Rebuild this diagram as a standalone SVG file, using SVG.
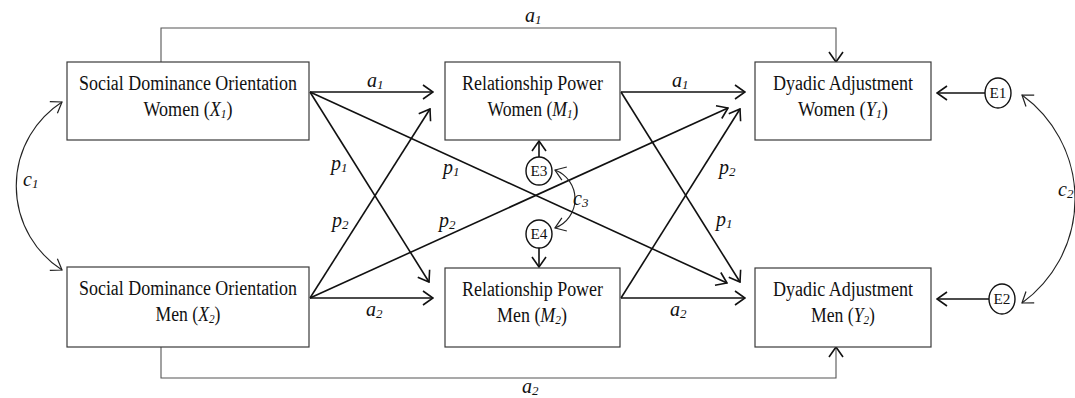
<svg xmlns="http://www.w3.org/2000/svg" width="1075" height="398" viewBox="0 0 1075 398">
<style>
.box{fill:#fff;stroke:#3a3a3a;stroke-width:1.2}
.bt{font-family:"Liberation Serif",serif;font-size:20.5px;fill:#111;text-anchor:middle}
.lb{font-family:"Liberation Serif",serif;font-size:20px;font-style:italic;fill:#111}
.sub{font-size:13px;font-style:italic}
.ar{fill:none;stroke:#111;stroke-width:1.6}
.thin{fill:none;stroke:#555;stroke-width:1.1}
.cv{fill:none;stroke:#222;stroke-width:1.1}
.el{fill:#fff;stroke:#111;stroke-width:1.4}
.et{font-family:"Liberation Serif",serif;font-size:15px;fill:#111;text-anchor:middle}
</style>
<defs>
<marker id="ah" markerUnits="userSpaceOnUse" viewBox="0 0 12 16" refX="11" refY="8" markerWidth="12" markerHeight="16" orient="auto">
<path d="M1,1 L11,8 L1,15" fill="none" stroke="#111" stroke-width="1.6"/>
</marker>
<marker id="ac" markerUnits="userSpaceOnUse" viewBox="0 0 12 16" refX="11" refY="8" markerWidth="12" markerHeight="16" orient="auto-start-reverse">
<path d="M1,1 L11,8 L1,15" fill="none" stroke="#222" stroke-width="1.2"/>
</marker>
</defs>

<g id="connectors">
<path class="thin" d="M161,62 V28 H836 V62" marker-end="url(#ah)"/>
<path class="thin" d="M161,347 V378 H836 V347" marker-end="url(#ah)"/>
<path class="ar" d="M310,92 H433" marker-end="url(#ah)"/>
<path class="ar" d="M621,92 H745" marker-end="url(#ah)"/>
<path class="ar" d="M310,298 H433" marker-end="url(#ah)"/>
<path class="ar" d="M621,298 H745" marker-end="url(#ah)"/>
<path class="ar" d="M310,92 L429,282" marker-end="url(#ah)"/>
<path class="ar" d="M310,92 L727,283" marker-end="url(#ah)"/>
<path class="ar" d="M310,298 L430,109" marker-end="url(#ah)"/>
<path class="ar" d="M310,298 L728,108" marker-end="url(#ah)"/>
<path class="ar" d="M621,92 L740,282" marker-end="url(#ah)"/>
<path class="ar" d="M621,298 L740,109" marker-end="url(#ah)"/>
<path class="ar" d="M985,93 H937" marker-end="url(#ah)"/>
<path class="ar" d="M989,299 H937" marker-end="url(#ah)"/>
<path class="ar" d="M539,157 V141" marker-end="url(#ah)"/>
<path class="ar" d="M539,248 V267" marker-end="url(#ah)"/>
<path class="cv" d="M62,102 A100,100 0 0,0 62,270" marker-start="url(#ac)" marker-end="url(#ac)"/>
<path class="cv" d="M1022,95 A128.5,128.5 0 0,1 1022,303" marker-start="url(#ac)" marker-end="url(#ac)"/>
<path class="cv" d="M555,170 A31,31 0 0,1 555,228" marker-start="url(#ac)" marker-end="url(#ac)"/>
</g>

<g id="labels">
<text class="lb" x="525" y="22">a<tspan class="sub" dy="2">1</tspan></text>
<text class="lb" x="522" y="393">a<tspan class="sub" dy="2">2</tspan></text>
<text class="lb" x="367" y="87">a<tspan class="sub" dy="2">1</tspan></text>
<text class="lb" x="672" y="87">a<tspan class="sub" dy="2">1</tspan></text>
<text class="lb" x="366" y="316">a<tspan class="sub" dy="2">2</tspan></text>
<text class="lb" x="670" y="316">a<tspan class="sub" dy="2">2</tspan></text>
<text class="lb" x="331" y="170">p<tspan class="sub" dy="2">1</tspan></text>
<text class="lb" x="332" y="227">p<tspan class="sub" dy="2">2</tspan></text>
<text class="lb" x="443" y="174">p<tspan class="sub" dy="2">1</tspan></text>
<text class="lb" x="439" y="227">p<tspan class="sub" dy="2">2</tspan></text>
<text class="lb" x="719" y="174">p<tspan class="sub" dy="2">2</tspan></text>
<text class="lb" x="716" y="226">p<tspan class="sub" dy="2">1</tspan></text>
<text class="lb" x="23" y="186">c<tspan class="sub" dy="2">1</tspan></text>
<text class="lb" x="1058" y="196">c<tspan class="sub" dy="2">2</tspan></text>
<text class="lb" x="573" y="205">c<tspan class="sub" dy="2">3</tspan></text>
</g>

<g id="X1">
<rect class="box" x="67" y="62" width="242" height="78"/>
<text class="bt" x="188" y="90" textLength="218" lengthAdjust="spacingAndGlyphs">Social Dominance Orientation</text>
<text class="bt" x="188" y="116" textLength="89" lengthAdjust="spacingAndGlyphs">Women (<tspan font-style="italic">X</tspan><tspan class="sub" dy="2">1</tspan><tspan dy="-2">)</tspan></text>
</g>
<g id="X2">
<rect class="box" x="67" y="267" width="242" height="80"/>
<text class="bt" x="188" y="295" textLength="218" lengthAdjust="spacingAndGlyphs">Social Dominance Orientation</text>
<text class="bt" x="188" y="321" textLength="65" lengthAdjust="spacingAndGlyphs">Men (<tspan font-style="italic">X</tspan><tspan class="sub" dy="2">2</tspan><tspan dy="-2">)</tspan></text>
</g>
<g id="M1">
<rect class="box" x="445" y="62" width="175" height="78"/>
<text class="bt" x="532.5" y="90" textLength="141" lengthAdjust="spacingAndGlyphs">Relationship Power</text>
<text class="bt" x="533" y="116" textLength="91" lengthAdjust="spacingAndGlyphs">Women (<tspan font-style="italic">M</tspan><tspan class="sub" dy="2">1</tspan><tspan dy="-2">)</tspan></text>
</g>
<g id="M2">
<rect class="box" x="445" y="268" width="175" height="79"/>
<text class="bt" x="532.5" y="296" textLength="141" lengthAdjust="spacingAndGlyphs">Relationship Power</text>
<text class="bt" x="532" y="322" textLength="70" lengthAdjust="spacingAndGlyphs">Men (<tspan font-style="italic">M</tspan><tspan class="sub" dy="2">2</tspan><tspan dy="-2">)</tspan></text>
</g>
<g id="Y1">
<rect class="box" x="755" y="62" width="176" height="78"/>
<text class="bt" x="843" y="90" textLength="140" lengthAdjust="spacingAndGlyphs">Dyadic Adjustment</text>
<text class="bt" x="843" y="116" textLength="90" lengthAdjust="spacingAndGlyphs">Women (<tspan font-style="italic">Y</tspan><tspan class="sub" dy="2">1</tspan><tspan dy="-2">)</tspan></text>
</g>
<g id="Y2">
<rect class="box" x="755" y="268" width="176" height="79"/>
<text class="bt" x="843" y="296" textLength="140" lengthAdjust="spacingAndGlyphs">Dyadic Adjustment</text>
<text class="bt" x="843" y="322" textLength="64" lengthAdjust="spacingAndGlyphs">Men (<tspan font-style="italic">Y</tspan><tspan class="sub" dy="2">2</tspan><tspan dy="-2">)</tspan></text>
</g>
<g id="E1">
<ellipse class="el" cx="998" cy="93" rx="13" ry="15"/>
<text class="et" x="998" y="98" textLength="17" lengthAdjust="spacingAndGlyphs">E1</text>
</g>
<g id="E2">
<ellipse class="el" cx="1002" cy="299" rx="13" ry="15"/>
<text class="et" x="1002" y="304" textLength="17" lengthAdjust="spacingAndGlyphs">E2</text>
</g>
<g id="E3">
<ellipse class="el" cx="539" cy="171" rx="13" ry="14"/>
<text class="et" x="539" y="176" textLength="17" lengthAdjust="spacingAndGlyphs">E3</text>
</g>
<g id="E4">
<ellipse class="el" cx="539" cy="234" rx="13" ry="14"/>
<text class="et" x="539" y="239" textLength="17" lengthAdjust="spacingAndGlyphs">E4</text>
</g>
</svg>
